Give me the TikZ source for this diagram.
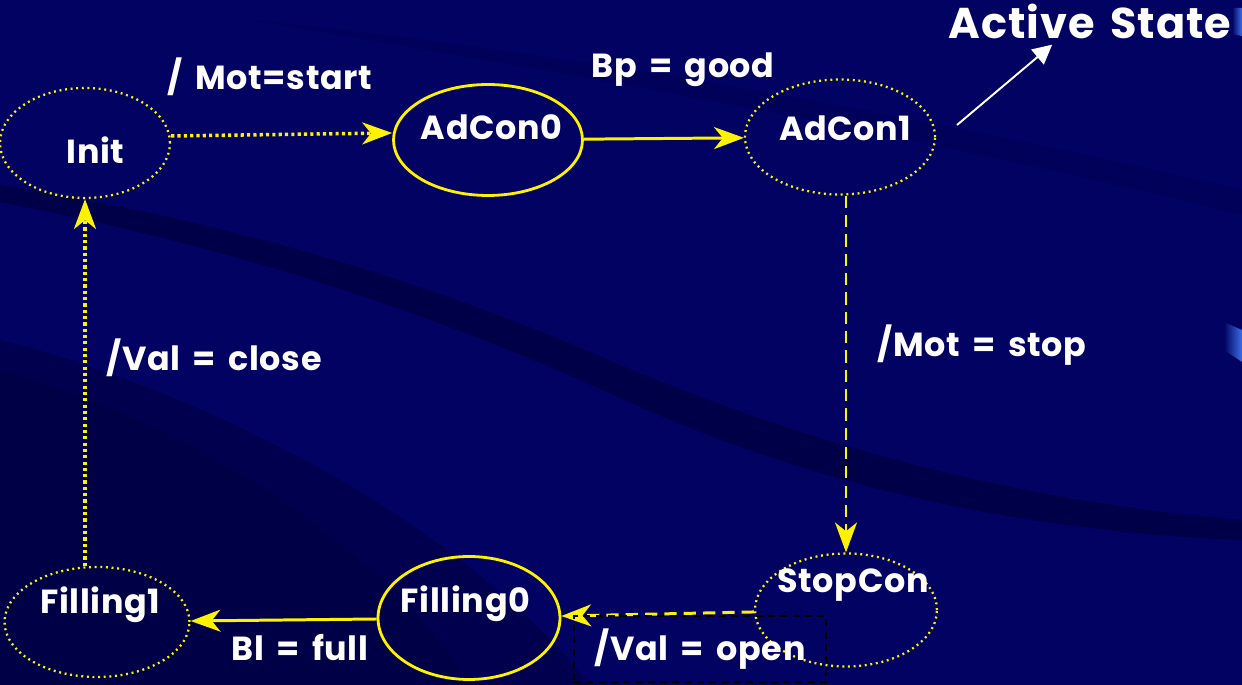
\documentclass[tikz,border=0pt]{standalone}
\usepackage{fontspec}
\setmainfont{Poppins}[WordSpace=1.6, LetterSpace=2]
\usetikzlibrary{shapes.geometric,arrows.meta}

\definecolor{slide}{RGB}{2,2,98}
\definecolor{swoosh}{RGB}{0,0,66}
\definecolor{glare}{RGB}{60,110,230}

\begin{document}
\begin{tikzpicture}[
  x=0.02cm, y=-0.02cm,
  font=\fontsize{19}{23}\selectfont\bfseries, text=white,
  state/.style={ellipse, draw=yellow, line width=1.6pt, inner sep=0pt},
  idle/.style={ellipse, draw=yellow, line width=1.3pt, inner sep=0pt,
    dash pattern=on 1.1pt off 2.1pt},
  trans/.style={draw=yellow, line width=1.7pt,
    -{Stealth[length=17pt, width=12.5pt, inset=5pt]}},
]
  \useasboundingbox (0,0) rectangle (1242,685);

  % background with the darker swooshes
  \fill[slide] (0,0) rectangle (1242,685);
  \fill[swoosh, opacity=0.25] (250,20) .. controls (550,50) and (900,110) .. (1242,190)
    -- (1242,215) .. controls (900,130) and (550,70) .. (250,20) -- cycle;
  \fill[swoosh, opacity=0.8] (0,185) .. controls (250,225) and (450,290) .. (620,365)
    .. controls (800,440) and (1000,500) .. (1242,520)
    -- (1242,540) .. controls (1000,530) and (800,480) .. (620,398)
    .. controls (450,320) and (250,250) .. (0,202) -- cycle;
  \fill[swoosh, opacity=0.6] (0,340) .. controls (200,390) and (460,520) .. (590,685)
    -- (0,685) -- cycle;
  \fill[swoosh, opacity=0.6] (0,370) .. controls (180,420) and (380,540) .. (470,685)
    -- (0,685) -- cycle;
  \shade[left color=slide, right color=glare] (1224,322) -- (1242,330) -- (1242,362) -- (1224,350) -- cycle;
  \shade[left color=slide, right color=glare] (1232,8) -- (1242,8) -- (1242,36) -- (1232,34) -- cycle;

  % states
  \node[idle, minimum width=3.4cm, minimum height=2.2cm,
    label={[yshift=-4pt, xshift=6pt]center:Init}] (init) at (85,143) {};
  \node[state, minimum width=3.78cm, minimum height=2.22cm,
    label={[yshift=7pt, xshift=2pt]center:AdCon0}] (adcon0) at (488,140) {};
  \node[idle, minimum width=3.8cm, minimum height=2.3cm,
    label={[yshift=5pt, xshift=3pt]center:AdCon1}] (adcon1) at (840,137) {};
  \node[idle, minimum width=3.64cm, minimum height=2.26cm,
    label={[yshift=14pt, xshift=4pt]center:StopCon}] (stopcon) at (846,610) {};
  \node[state, minimum width=3.64cm, minimum height=2.46cm,
    label={[yshift=8pt, xshift=-2pt]center:Filling0}] (filling0) at (469,618) {};
  \node[idle, minimum width=3.7cm, minimum height=2.2cm,
    label={[yshift=10pt, xshift=2pt]center:Filling1}] (filling1) at (97,622) {};

  % transitions
  \draw[trans, line width=2pt, dash pattern=on 1.8pt off 1.8pt]
    ([yshift=4pt]init.east) -- ([yshift=4pt]adcon0.west);
  \draw[trans] (adcon0) -- (adcon1);
  \draw[trans, dash pattern=on 7pt off 4pt] (adcon1.south -| stopcon.north) -- (stopcon.north);
  \draw[trans, dash pattern=on 7pt off 4pt] (stopcon) -- (filling0);
  \draw[trans] (filling0) -- (filling1);
  \draw[trans, line width=2pt, dash pattern=on 1.8pt off 1.8pt]
    (filling1.north -| init.south) -- (init.south);

  % labels
  \node (motstart) at (270,77) {/ Mot=start};
  \node (bpgood) at (683,70) {Bp = good};
  \node (motstop) at (982,345) {/Mot = stop};
  \node (valclose) at (214,358) {/Val = close};
  \node (blfull) at (300,648) {Bl = full};
  \node[draw=black, line width=1.1pt, dash pattern=on 4pt off 3pt,
    minimum width=5.04cm, minimum height=1.32cm] (valopen) at (700,649) {/Val = open};

  % pointer to the active one
  \node[font=\fontsize{24.5}{29}\selectfont\bfseries] (active) at (1090,21) {Active State};
  \coordinate (hint) at (957,125);
  \draw[white, line width=1.1pt, -{Triangle[length=11pt, width=11pt]}] (hint) -- (active.212);
\end{tikzpicture}
\end{document}
